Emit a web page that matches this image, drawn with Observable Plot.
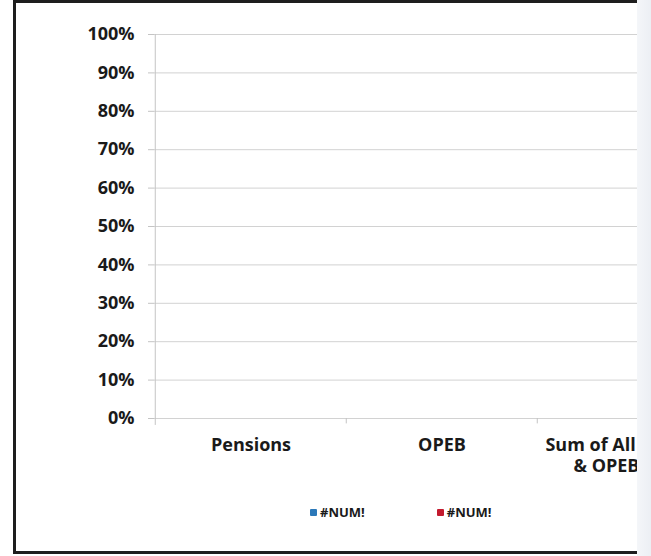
<!DOCTYPE html>
<html>
<head>
<meta charset="utf-8">
<script src="https://cdn.jsdelivr.net/npm/d3@7"></script>
<script src="https://cdn.jsdelivr.net/npm/@observablehq/plot@0.6"></script>
<style>
  html, body { margin: 0; padding: 0; background: #ffffff; }
  body { width: 651px; height: 556px; position: relative; overflow: hidden; font-family: "Open Sans", sans-serif; }
  #edge { position: absolute; left: 637px; top: 0; width: 14px; height: 556px; background: linear-gradient(90deg, #f4f6f9, #eceff4); }
  #frame { position: absolute; left: 13px; top: 0; width: 621px; height: 548px; border-left: 3px solid #1e1e1e; border-top: 3px solid #1e1e1e; border-bottom: 3px solid #1e1e1e; border-right: 0 none; overflow: hidden; background: #fff; }
  #chart { position: absolute; left: 0; top: 0; width: 760px; }
  #chart svg { max-width: none !important; }
  #legend { position: absolute; left: 294px; top: 500px; display: flex; align-items: center; font-family: "Open Sans", sans-serif; font-weight: 700; font-size: 13px; color: #1a1a1a; }
  .item { display: flex; align-items: center; }
  .item + .item { margin-left: 72px; }
  .sw { width: 7px; height: 7px; margin-right: 3px; border-radius: 1px; }
</style>
</head>
<body>
<div id="edge"></div>
<div id="frame">
  <div id="chart"></div>
  <div id="legend"></div>
</div>
<script>
// ---- data ----
const categories = ["Pensions", "OPEB", "Sum of All Pensions & OPEB Plans"];
const seriesLabels = ["#NUM!", "#NUM!"];
const seriesColors = ["#2b78b9", "#c31a2e"];
// Every value in the source evaluated to #NUM! (no bars drawn)
const series1Values = [NaN, NaN, NaN];
const series2Values = [NaN, NaN, NaN];
const yTicks = [0, 0.1, 0.2, 0.3, 0.4, 0.5, 0.6, 0.7, 0.8, 0.9, 1.0];

const rows = [];
categories.forEach((c, i) => {
  rows.push({category: c, series: 0, value: series1Values[i]});
  rows.push({category: c, series: 1, value: series2Values[i]});
});

const W = 760, H = 480, ML = 138, MR = 47.5, MT = 31, MB = 65;
const step = (W - ML - MR) / categories.length;

const chart = Plot.plot({
  width: W,
  height: H,
  marginLeft: ML,
  marginRight: MR,
  marginTop: MT,
  marginBottom: MB,
  style: {fontFamily: "Open Sans", fontSize: "18px", fontWeight: 700, color: "#1a1a1a", background: "transparent", maxWidth: "none"},
  x: {domain: categories, padding: 0, label: null},
  y: {domain: [0, 1], label: null},
  marks: [
    Plot.gridY(yTicks, {stroke: "#d2d2d2", strokeOpacity: 1}),
    Plot.barY(rows.filter(d => Number.isFinite(d.value)), {
      x: "category", y: "value",
      fill: d => seriesColors[d.series],
      dx: d => (d.series - 0.5) * step * 0.3
    }),
    Plot.ruleX([categories[0]], {x: d => d, dx: -step / 2, y1: -0.018, y2: 1, stroke: "#c4c4c4"}),
    Plot.ruleX(categories.slice(1), {x: d => d, dx: -step / 2, y1: 0, y2: -0.014, stroke: "#c4c4c4"}),
    Plot.axisY({ticks: yTicks, tickFormat: d3.format(".0%"), tickSize: 6, tickPadding: 14, stroke: "#c4c4c4", fill: "#1a1a1a", fontSize: 18, label: null}),
    Plot.axisX({tickSize: 0, tickPadding: 18, tickFormat: d => d.replace(" Pensions & ", " Pensions\n& "), lineHeight: 1.15, fill: "#1a1a1a", fontSize: 18, label: null})
  ]
});
chart.style.maxWidth = "none";
document.getElementById("chart").appendChild(chart);

const legend = document.getElementById("legend");
seriesLabels.forEach((lab, i) => {
  const item = document.createElement("div");
  item.className = "item";
  const sw = document.createElement("span");
  sw.className = "sw";
  sw.style.background = seriesColors[i];
  const t = document.createElement("span");
  t.textContent = lab;
  item.appendChild(sw);
  item.appendChild(t);
  legend.appendChild(item);
});
</script>
</body>
</html>
